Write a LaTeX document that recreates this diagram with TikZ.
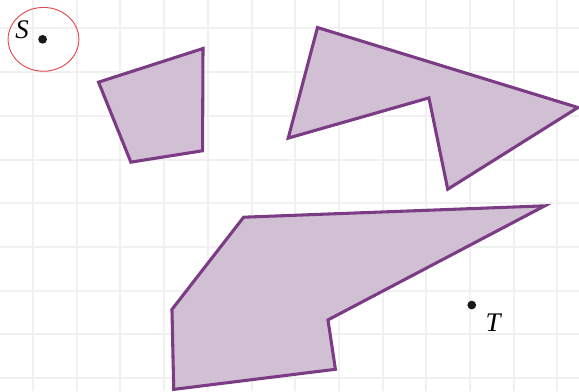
\documentclass[tikz,border=0pt]{standalone}
\usepackage{fontspec}
\setmainfont{Liberation Serif}
\usepackage{tikz}
\usetikzlibrary{calc}
\definecolor{prune}{HTML}{7B3B85}
\definecolor{lilas}{HTML}{D1BFD4}
\definecolor{quadrillage}{HTML}{F0F0F0}
\definecolor{rougeS}{HTML}{E2474B}
\tikzset{
    quad/.style={draw=quadrillage,line width=1.3pt},
    obstacle/.style={draw=prune,fill=lilas,line width=2pt,line join=miter},
    point/.style={fill=black!90},
    lettre/.style={font=\fontsize{17.5}{20}\selectfont\itshape,inner sep=0pt},
  }
\begin{document}
\begin{tikzpicture}
				  %cadre et quadrillage
				  \useasboundingbox (-0.755,-0.297) rectangle (12.494,8.65);
				  \draw[quad] (-0.755,-0.297) grid (12.494,8.65);

				  %quadrilatere
				  \coordinate (A1) at (1.50,6.77);
				  \coordinate (A2) at (3.89,7.54);
				  \coordinate (A3) at (3.88,5.20);
				  \coordinate (A4) at (2.24,4.94);
				  \draw[obstacle] (A1) -- (A2) -- (A3) -- (A4) -- cycle;

				  %forme du haut
				  \coordinate (B1) at (6.51,8.02);
				  \coordinate (B2) at (12.47,6.19);
				  \coordinate (B3) at (9.49,4.32);
				  \coordinate (B4) at (9.06,6.41);
				  \coordinate (B5) at (5.84,5.49);
				  \draw[obstacle] (B1) -- (B2) -- (B3) -- (B4) -- (B5) -- cycle;

				  %forme du bas
				  \coordinate (C1) at (4.82,3.68);
				  \coordinate (C2) at (11.71,3.94);
				  \coordinate (C3) at (6.75,1.33);
				  \coordinate (C4) at (6.92,0.20);
				  \coordinate (C5) at (3.22,-0.26);
				  \coordinate (C6) at (3.18,1.57);
				  \draw[obstacle] (C1) -- (C2) -- (C3) -- (C4) -- (C5) -- (C6) -- cycle;

				  %S et son cercle
				  \coordinate (S) at (0.22,7.75);
				  \draw[rougeS,line width=0.6pt] (0.24,7.75) ellipse (0.81 and 0.73);
				  \fill[point] (S) circle (0.1);
				  \node[lettre] (labS) at (-0.25,7.96) {S};

				  %T
				  \coordinate (T) at (10.04,1.67);
				  \fill[point] (T) circle (0.1);
				  \node[lettre] (labT) at (10.53,1.27) {T};
\end{tikzpicture}
\end{document}
